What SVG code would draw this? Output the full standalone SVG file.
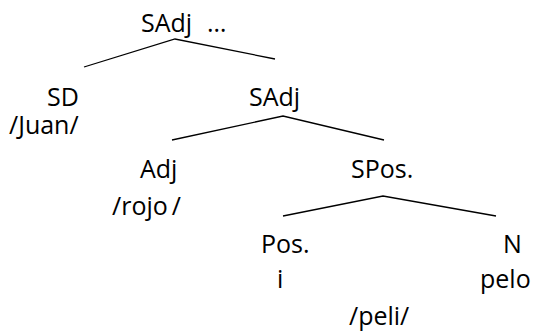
<svg xmlns="http://www.w3.org/2000/svg" width="533" height="331" viewBox="0 0 533 331">
<style>
text{font-family:"Open Sans","Liberation Sans",sans-serif;font-size:25px;fill:#000}
.e{stroke:#000;stroke-width:1.3;fill:none}
</style>
<rect width="533" height="331" fill="#fff"/>
<g id="connectors">
<polyline class="e" points="84,67 175,39 275,59"/>
<polyline class="e" points="172,140 283,116 384,140"/>
<polyline class="e" points="283,216 383,196 496,216"/>
</g>
<g id="n-root"><text x="141" y="32">SAdj<tspan x="207">…</tspan></text></g>
<g id="n-sd"><text x="47" y="106">SD</text><text x="9" y="134">/Juan/</text></g>
<g id="n-sadj"><text x="249" y="106">SAdj</text></g>
<g id="n-adj"><text x="140" y="178">Adj</text><text x="112" y="215">/rojo<tspan dx="4">/</tspan></text></g>
<g id="n-spos"><text x="351" y="178">SPos.</text></g>
<g id="n-pos"><text x="261" y="253">Pos.</text><text x="277" y="288">i</text></g>
<g id="n-n"><text x="503" y="253">N</text><text x="480" y="288">pelo</text></g>
<g id="n-peli"><text x="349" y="325">/peli/</text></g>
</svg>
